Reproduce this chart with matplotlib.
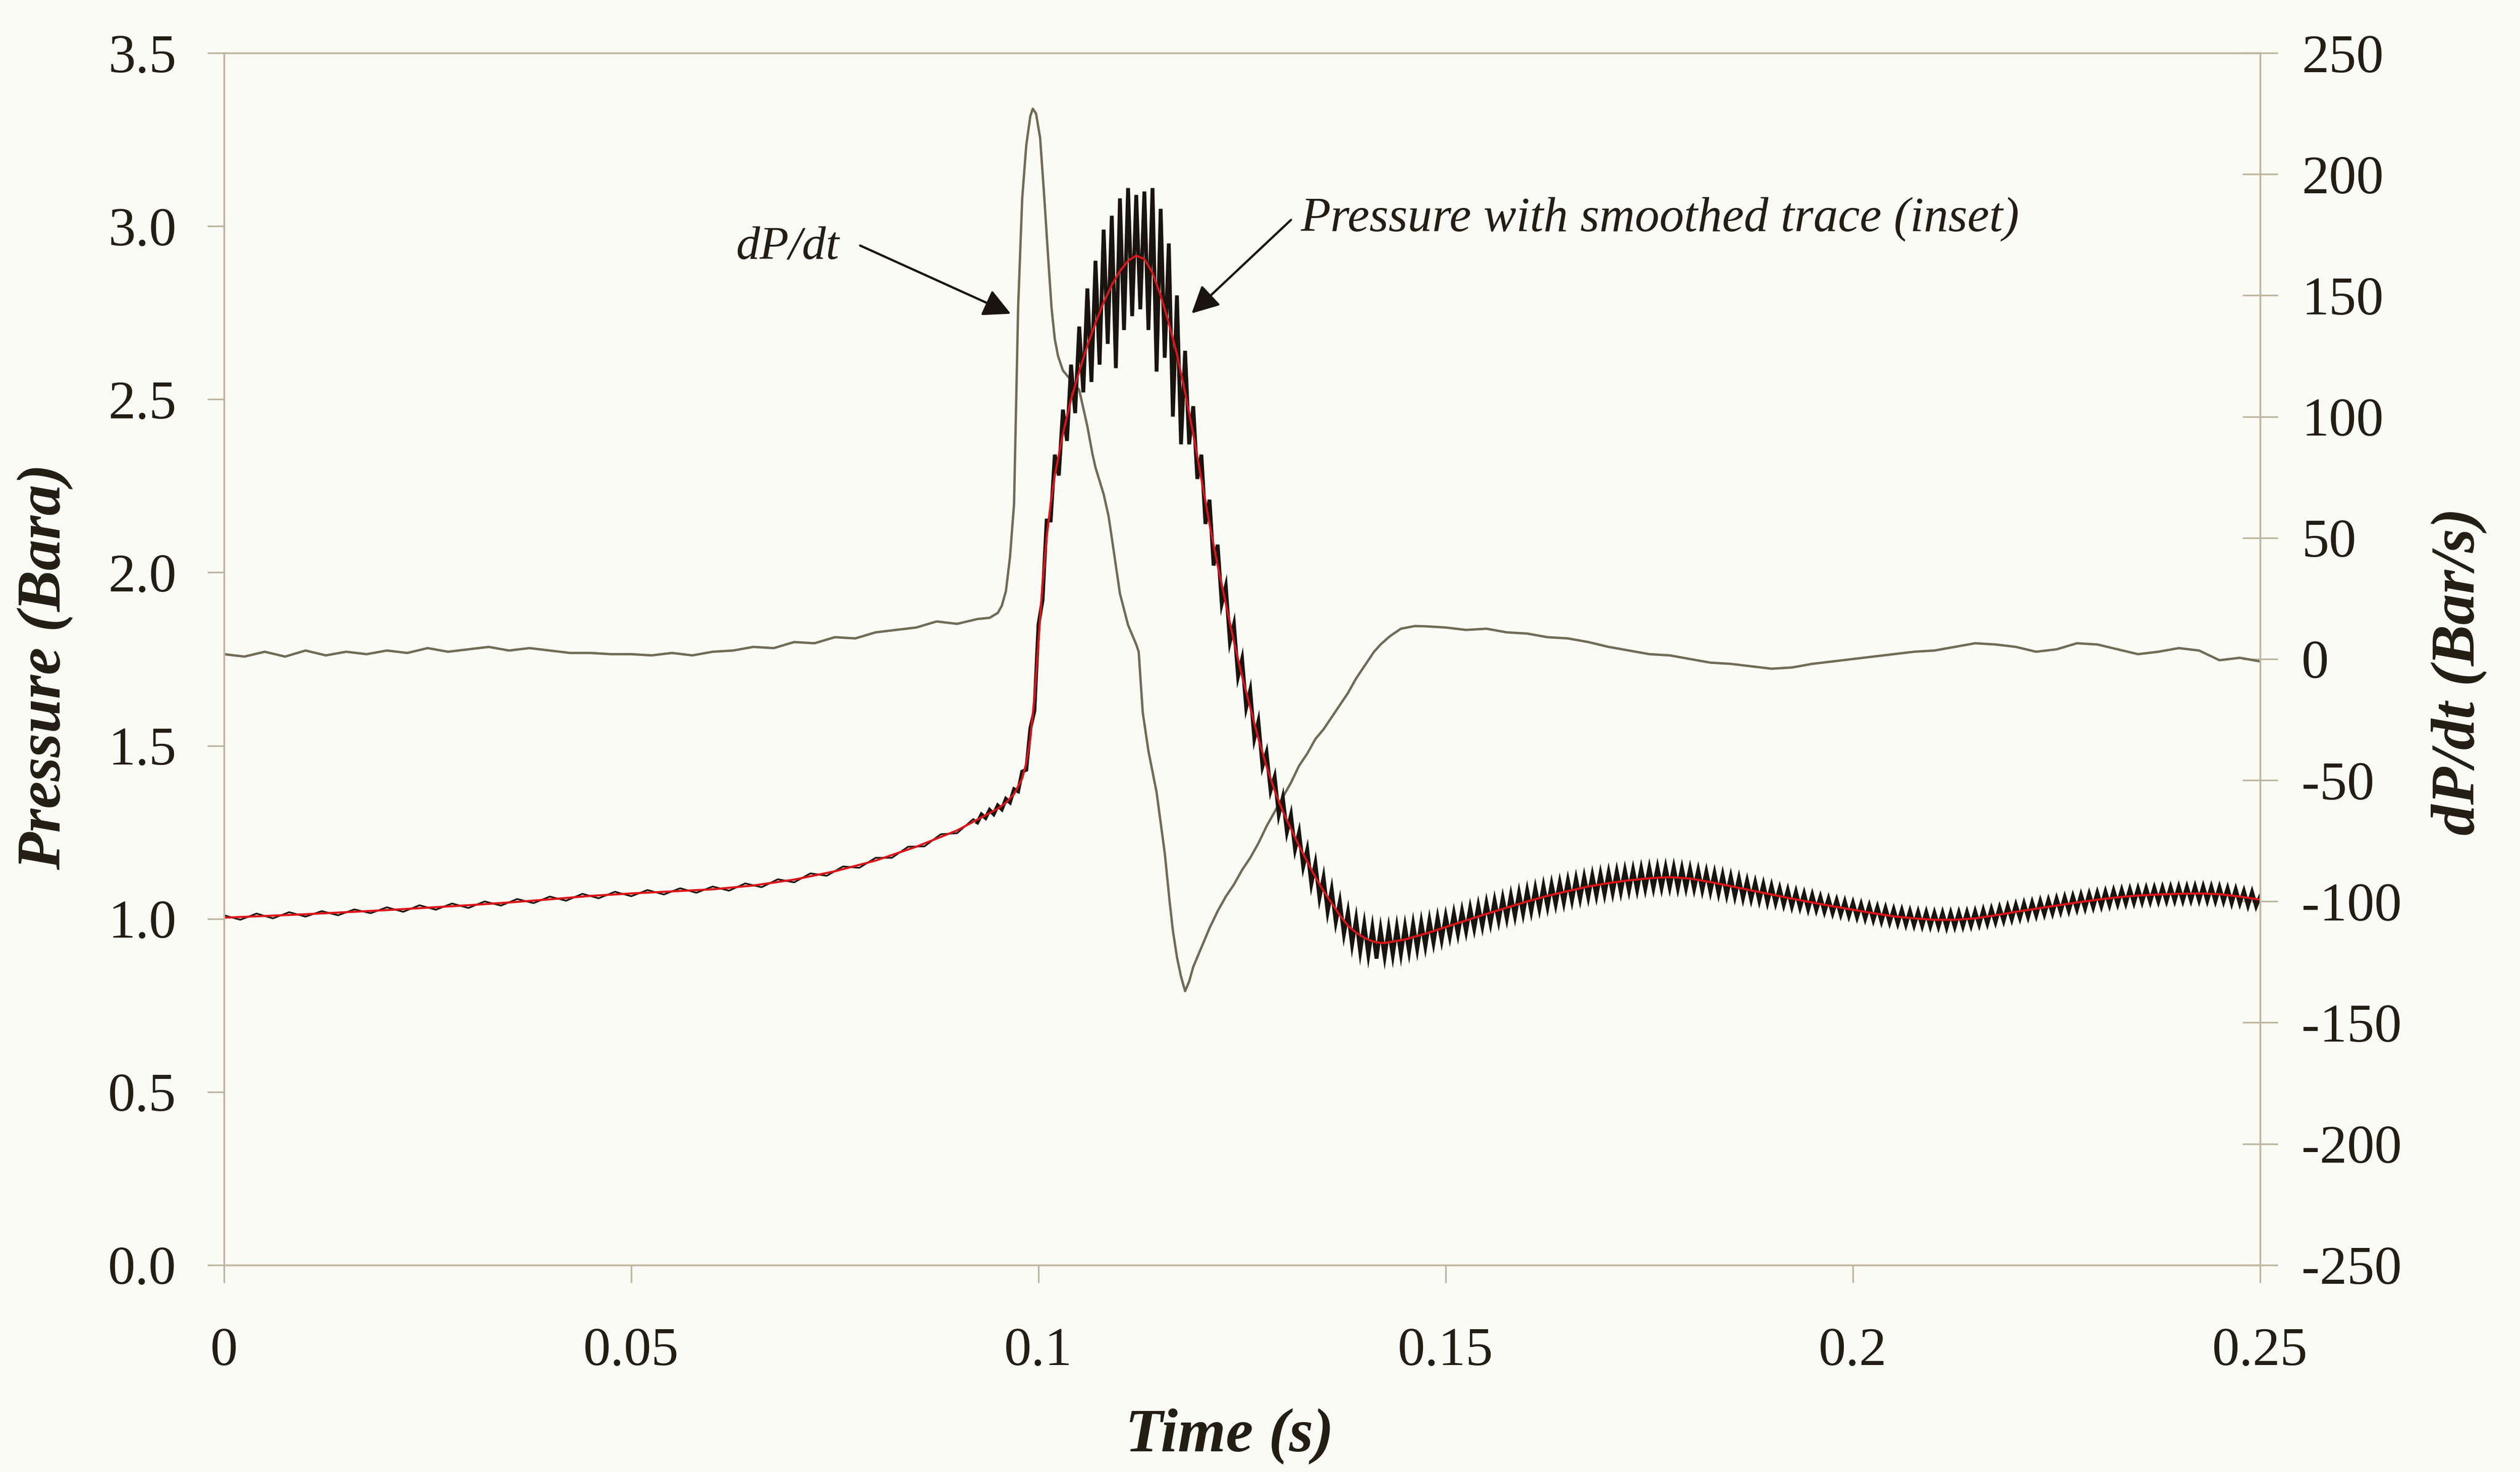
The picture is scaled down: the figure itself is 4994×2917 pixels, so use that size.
import numpy as np
import matplotlib
matplotlib.use("Agg")
import matplotlib.pyplot as plt
from matplotlib.ticker import FormatStrFormatter, FixedLocator, FixedFormatter

plt.rcParams['font.family'] = ['Liberation Serif', 'DejaVu Serif']
plt.rcParams['axes.unicode_minus'] = False

# ---------------- data ----------------
# Smoothed pressure trace (bar a)
smooth_t = [0.000, 0.005, 0.010, 0.015, 0.020, 0.025, 0.030, 0.035, 0.040, 0.045,
            0.050, 0.055, 0.060, 0.065, 0.070, 0.075, 0.080, 0.085, 0.090, 0.092,
            0.094, 0.095, 0.096, 0.097, 0.098, 0.0985, 0.099, 0.0995, 0.100, 0.1005,
            0.101, 0.1015, 0.102, 0.103, 0.104, 0.105, 0.106, 0.107, 0.108, 0.109,
            0.110, 0.111, 0.112, 0.113, 0.114, 0.115, 0.116, 0.117, 0.118, 0.119,
            0.120, 0.121, 0.122, 0.123, 0.124, 0.125, 0.126, 0.127, 0.128, 0.129,
            0.130, 0.131, 0.132, 0.133, 0.134, 0.135, 0.136, 0.137, 0.138, 0.139,
            0.140, 0.141, 0.142, 0.1425, 0.145, 0.1475, 0.150, 0.1525, 0.155, 0.1575,
            0.160, 0.1625, 0.165, 0.1675, 0.170, 0.1725, 0.175, 0.1775, 0.180, 0.1825,
            0.185, 0.1875, 0.190, 0.1925, 0.195, 0.1975, 0.200, 0.2025, 0.205, 0.2075,
            0.210, 0.2125, 0.215, 0.2175, 0.220, 0.2225, 0.225, 0.2275, 0.230, 0.2325,
            0.235, 0.2375, 0.240, 0.2425, 0.245, 0.2475, 0.250]
smooth_p = [1.003, 1.008, 1.013, 1.019, 1.025, 1.032, 1.039, 1.047, 1.056, 1.066,
            1.073, 1.079, 1.085, 1.096, 1.113, 1.137, 1.168, 1.208, 1.255, 1.280,
            1.305, 1.318, 1.335, 1.360, 1.405, 1.45, 1.52, 1.64, 1.80, 1.97,
            2.10, 2.20, 2.28, 2.40, 2.50, 2.58, 2.655, 2.72, 2.78, 2.83,
            2.87, 2.90, 2.915, 2.905, 2.865, 2.80, 2.72, 2.63, 2.52, 2.40,
            2.27, 2.14, 2.02, 1.91, 1.80, 1.70, 1.61, 1.52, 1.44, 1.37,
            1.31, 1.26, 1.21, 1.165, 1.12, 1.08, 1.045, 1.01, 0.98, 0.96,
            0.945, 0.935, 0.930, 0.930, 0.940, 0.957, 0.976, 0.995, 1.014, 1.032,
            1.050, 1.066, 1.080, 1.093, 1.103, 1.111, 1.117, 1.120, 1.116, 1.106,
            1.094, 1.082, 1.070, 1.058, 1.047, 1.036, 1.026, 1.016, 1.007, 1.001,
            0.997, 0.997, 1.001, 1.010, 1.020, 1.029, 1.038, 1.047, 1.055, 1.062,
            1.067, 1.070, 1.072, 1.073, 1.071, 1.064, 1.055]

# Raw pressure record: 2 ms samples up to 0.092 s, then 0.5 ms samples from 0.0925 s
raw_early = [1.010, 0.997, 1.015, 1.001, 1.019, 1.006, 1.022, 1.010, 1.027, 1.016,
             1.033, 1.020, 1.039, 1.026, 1.044, 1.031, 1.050, 1.038, 1.057, 1.045,
             1.064, 1.052, 1.072, 1.059, 1.078, 1.065, 1.083, 1.070, 1.088, 1.075,
             1.093, 1.081, 1.102, 1.091, 1.114, 1.105, 1.131, 1.124, 1.151, 1.147,
             1.176, 1.176, 1.208, 1.209, 1.244, 1.247, 1.288]
raw_late = [1.278, 1.301, 1.291, 1.314, 1.302, 1.327, 1.316, 1.346, 1.336, 1.374,   # 0.0925
            1.368, 1.425, 1.43, 1.55, 1.60, 1.85, 1.92, 2.15, 2.15, 2.34,            # 0.0975
            2.28, 2.47, 2.38, 2.60, 2.46, 2.71, 2.52, 2.82, 2.55, 2.90,              # 0.1025
            2.60, 2.99, 2.66, 3.03, 2.59, 3.08, 2.70, 3.11, 2.74, 3.09,              # 0.1075
            2.76, 3.10, 2.70, 3.11, 2.58, 3.05, 2.62, 2.95, 2.45, 2.80,              # 0.1125
            2.37, 2.64, 2.37, 2.48, 2.27, 2.34, 2.14, 2.21, 2.02, 2.08,              # 0.1175
            1.91, 1.96, 1.80, 1.85, 1.70, 1.75, 1.61, 1.66, 1.52, 1.57,              # 0.1225
            1.44, 1.48, 1.37, 1.41, 1.30, 1.35, 1.25, 1.30, 1.20, 1.25,              # 0.1275
            1.15, 1.20, 1.10, 1.16, 1.06, 1.12, 1.02, 1.085, 0.99, 1.05,             # 0.1325
            0.955, 1.02, 0.925, 1.00, 0.905, 0.985, 0.895, 0.975, 0.885, 0.97,       # 0.1375
            0.89, 0.972, 0.894, 0.976, 0.898, 0.978, 0.905, 0.985, 0.912, 0.990,     # 0.1425
            0.920, 0.996, 0.930, 1.003, 0.938, 1.008, 0.948, 1.016, 0.955, 1.023,    # 0.1475
            0.963, 1.031, 0.971, 1.038, 0.978, 1.046, 0.986, 1.053, 0.993, 1.060,    # 0.1525
            1.000, 1.068, 1.007, 1.075, 1.014, 1.082, 1.021, 1.088, 1.028, 1.095,    # 0.1575
            1.034, 1.100, 1.041, 1.105, 1.046, 1.111, 1.052, 1.116, 1.057, 1.121,    # 0.1625
            1.062, 1.126, 1.066, 1.130, 1.070, 1.134, 1.074, 1.137, 1.077, 1.140,    # 0.1675
            1.081, 1.142, 1.083, 1.145, 1.086, 1.147, 1.088, 1.148, 1.089, 1.149,    # 0.1725
            1.090, 1.149, 1.088, 1.146, 1.088, 1.144, 1.086, 1.140, 1.082, 1.136,    # 0.1775
            1.078, 1.132, 1.073, 1.127, 1.068, 1.122, 1.064, 1.117, 1.059, 1.110,    # 0.1825
            1.056, 1.105, 1.052, 1.100, 1.047, 1.095, 1.045, 1.088, 1.040, 1.083,    # 0.1875
            1.035, 1.078, 1.032, 1.073, 1.027, 1.069, 1.025, 1.063, 1.020, 1.058,    # 0.1925
            1.016, 1.054, 1.012, 1.050, 1.008, 1.046, 1.004, 1.042, 1.000, 1.038,    # 0.1975
            0.996, 1.034, 0.992, 1.031, 0.989, 1.027, 0.986, 1.025, 0.983, 1.022,    # 0.2025
            0.981, 1.020, 0.979, 1.019, 0.978, 1.017, 0.977, 1.017, 0.975, 1.017,    # 0.2075
            0.977, 1.018, 0.978, 1.019, 0.980, 1.021, 0.983, 1.025, 0.986, 1.028,    # 0.2125
            0.990, 1.032, 0.994, 1.036, 0.998, 1.040, 1.002, 1.044, 1.005, 1.047,    # 0.2175
            1.009, 1.051, 1.013, 1.054, 1.016, 1.058, 1.020, 1.062, 1.023, 1.065,    # 0.2225
            1.027, 1.069, 1.030, 1.072, 1.033, 1.075, 1.036, 1.078, 1.039, 1.081,    # 0.2275
            1.042, 1.083, 1.044, 1.085, 1.046, 1.087, 1.048, 1.088, 1.049, 1.089,    # 0.2325
            1.050, 1.090, 1.051, 1.091, 1.052, 1.092, 1.052, 1.092, 1.053, 1.093,    # 0.2375
            1.053, 1.093, 1.052, 1.092, 1.051, 1.091, 1.050, 1.088, 1.045, 1.085,    # 0.2425
            1.044, 1.080, 1.038, 1.077, 1.036, 1.065]                                # 0.2475

# Rate of pressure rise (bar/s)
dpdt_t = [0.000, 0.0025, 0.005, 0.0075, 0.010, 0.0125, 0.015, 0.0175, 0.020, 0.0225,
          0.025, 0.0275, 0.030, 0.0325, 0.035, 0.0375, 0.040, 0.0425, 0.045, 0.0475,
          0.050, 0.0525, 0.055, 0.0575, 0.060, 0.0625, 0.065, 0.0675, 0.070, 0.0725,
          0.075, 0.0775, 0.080, 0.0825, 0.085, 0.0875, 0.090, 0.0925, 0.094, 0.095,
          0.0955, 0.096, 0.0965, 0.097, 0.0975, 0.098, 0.0985, 0.099, 0.0993, 0.0997,
          0.1002, 0.1007, 0.1012, 0.1016, 0.102, 0.1024, 0.103, 0.104, 0.105, 0.106,
          0.1066, 0.107, 0.108, 0.1086, 0.109, 0.110, 0.111, 0.112, 0.1123, 0.1128,
          0.1135, 0.1145, 0.1155, 0.1161, 0.1165, 0.117, 0.1175, 0.118, 0.1185, 0.119,
          0.120, 0.121, 0.122, 0.123, 0.124, 0.125, 0.126, 0.127, 0.128, 0.129,
          0.130, 0.131, 0.132, 0.133, 0.134, 0.135, 0.136, 0.137, 0.138, 0.139,
          0.140, 0.1412, 0.142, 0.143, 0.1434, 0.1445, 0.1462, 0.1475, 0.150, 0.1525,
          0.155, 0.1575, 0.160, 0.1625, 0.165, 0.1675, 0.170, 0.1725, 0.175, 0.1775,
          0.180, 0.1825, 0.185, 0.1875, 0.190, 0.1925, 0.195, 0.1975, 0.200, 0.2025,
          0.205, 0.2075, 0.210, 0.2125, 0.215, 0.2175, 0.220, 0.2225, 0.225, 0.2275,
          0.230, 0.2325, 0.235, 0.2375, 0.240, 0.2425, 0.245, 0.2475, 0.250]
dpdt_v = [2, 1, 3, 1, 3.5, 1.5, 3, 2, 3.5, 2.5,
          4.5, 3, 4, 5, 3.5, 4.5, 3.5, 2.5, 2.5, 2,
          2, 1.5, 2.5, 1.5, 3, 3.5, 5, 4.5, 7, 6.5,
          9, 8.5, 11, 12, 13, 15.5, 14.5, 16.5, 17, 19,
          22, 28, 42, 64, 145, 190, 212, 224, 227, 225,
          215, 191, 165, 145, 132, 125, 119, 115, 111, 96,
          85, 79, 68, 59, 50, 27, 14, 6, 3, -22,
          -38, -55, -80, -100, -112, -123, -131, -137, -133, -127,
          -119, -111, -104, -98, -93, -87, -82, -76, -69, -63,
          -57, -51, -44, -39, -33, -29, -24, -19, -14, -8,
          -3, 3, 6, 9, 10, 12.5, 13.6, 13.5, 13, 12,
          12.5, 11, 10.5, 9, 8.5, 7, 5, 3.5, 2, 1.5,
          0, -1.5, -2, -3, -4, -3.5, -2, -1, 0, 1,
          2, 3, 3.5, 5, 6.5, 6, 5, 3, 4, 6.5,
          6, 4, 2, 3, 4.5, 3.5, -0.5, 0.5, -1]

# Axis ticks and labels
p_ticks = [0.0, 0.5, 1.0, 1.5, 2.0, 2.5, 3.0, 3.5]
t_ticks = [0.0, 0.05, 0.10, 0.15, 0.20, 0.25]
t_labels = ['0', '0.05', '0.1', '0.15', '0.2', '0.25']
r_ticks = [-250, -200, -150, -100, -50, 0, 50, 100, 150, 200, 250]

# ---------------- style ----------------
PAPER = '#fbfbf5'
SPINE = '#bdb7a1'
TXT = '#231e14'
DPDT_C = '#6f6b56'
RAW_C = '#1a140e'
RED_C = '#dc1419'

raw_t_early = 0.002 * np.arange(len(raw_early))
raw_t_late = 0.0925 + 0.0005 * np.arange(len(raw_late))

fig = plt.figure(figsize=(24.97, 14.585), dpi=200, facecolor=PAPER)
ax = fig.add_axes([0.0889, 0.1406, 0.808, 0.8234])
ax2 = ax.twinx()
ax.set_zorder(ax2.get_zorder() + 1)
ax.patch.set_visible(False)
ax2.patch.set_visible(False)

# dP/dt on the secondary axis
ax2.plot(dpdt_t, dpdt_v, color=DPDT_C, lw=1.7, solid_joinstyle='round')
ax2.set_ylim(-250, 250)

# pressure: raw record with the smoothed trace on top
ax.plot(np.append(raw_t_early, raw_t_late[0]), np.append(raw_early, raw_late[0]),
        color=RAW_C, lw=1.2)
ax.plot(raw_t_late, raw_late, color=RAW_C, lw=2.7, solid_joinstyle='miter')
ax.plot(smooth_t, smooth_p, color=RED_C, lw=1.5)

ax.set_xlim(0, 0.25)
ax.set_ylim(0, 3.5)

ax.xaxis.set_major_locator(FixedLocator(t_ticks))
ax.xaxis.set_major_formatter(FixedFormatter(t_labels))
ax.yaxis.set_major_locator(FixedLocator(p_ticks))
ax.yaxis.set_major_formatter(FormatStrFormatter('%.1f'))
ax2.yaxis.set_major_locator(FixedLocator(r_ticks))
ax2.yaxis.set_major_formatter(FormatStrFormatter('%d'))

for a in (ax, ax2):
    for s in a.spines.values():
        s.set_color(SPINE)
        s.set_linewidth(1.2)

ax.tick_params(axis='y', direction='out', length=12, width=1.2, color=SPINE,
               pad=22, labelsize=39, labelcolor=TXT)
ax.tick_params(axis='x', direction='out', length=12.5, width=1.2, color=SPINE,
               pad=32, labelsize=39, labelcolor=TXT)
ax2.tick_params(axis='y', direction='inout', length=25, width=1.2, color=SPINE,
                pad=17, labelsize=39, labelcolor=TXT)

# axis titles
lab = dict(fontsize=44, fontweight='bold', fontstyle='italic', color=TXT)
fig.text(0.488, 0.014, 'Time (s)', ha='center', va='baseline', **lab)
fig.text(0.0178, 0.547, 'Pressure (Bara)', ha='center', va='center', rotation=90, **lab)
fig.text(0.9758, 0.5437, 'dP/dt (Bar/s)', ha='center', va='center', rotation=90, **lab)

# callouts
arrow = dict(arrowstyle='-|>,head_length=0.55,head_width=0.28', color=RAW_C,
             lw=1.6, shrinkA=0, shrinkB=0, mutation_scale=30)
ax.text(0.0755, 2.905, 'dP/dt', ha='right', va='baseline', fontsize=34,
        fontstyle='italic', color=TXT)
ax.annotate('', xy=(0.0966, 2.747), xytext=(0.0781, 2.944), arrowprops=arrow)
ax.text(0.1322, 2.986, 'Pressure with smoothed trace (inset)', ha='left',
        va='baseline', fontsize=35, fontstyle='italic', color=TXT)
ax.annotate('', xy=(0.1188, 2.748), xytext=(0.131, 3.018), arrowprops=arrow)

fig.savefig('out.png', dpi=200, facecolor=PAPER)
